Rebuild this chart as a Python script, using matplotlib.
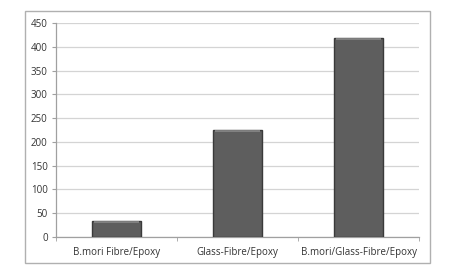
import matplotlib
matplotlib.use("Agg")
import matplotlib.pyplot as plt
from matplotlib.patches import Rectangle
import numpy as np

categories = ["B.mori Fibre/Epoxy", "Glass-Fibre/Epoxy", "B.mori/Glass-Fibre/Epoxy"]
values = [34, 225, 418]
yticks = [0, 50, 100, 150, 200, 250, 300, 350, 400, 450]

plt.rcParams['font.family'] = ['Open Sans', 'DejaVu Sans']

W, H = 459, 274
fig = plt.figure(figsize=(W/100, H/100), dpi=100)
fig.patches.append(Rectangle((25/W, 1 - 263/H), 405/W, 252/H, transform=fig.transFigure,
                             fill=False, edgecolor='#b0b0b0', linewidth=1.0))
ax = fig.add_axes([56/W, 1 - 237/H, 363/W, 214/H])
x = np.arange(len(categories))
bars = ax.bar(x, values, width=0.4, color='#5e5e5e', edgecolor='#3a3a3a', linewidth=1.0, zorder=3)

# light bevel at the top of each bar
for b in bars:
    ax.plot([b.get_x() + 0.01, b.get_x() + b.get_width() - 0.01],
            [b.get_height() - 2.5, b.get_height() - 2.5],
            color='#8a8a8a', linewidth=1.2, zorder=4, solid_capstyle='butt')

ax.set_xlim(-0.5, len(categories) - 0.5)
ax.set_ylim(0, 450)
ax.set_yticks(yticks)
ax.set_yticklabels([str(v) for v in yticks], fontsize=7, color='#333333')
ax.set_xticks(x)
ax.set_xticklabels(categories, fontsize=7, color='#333333')
ax.set_xticks(np.arange(len(categories) + 1) - 0.5, minor=True)
ax.tick_params(axis='x', which='major', length=0, pad=7)
ax.tick_params(axis='x', which='minor', length=3, color='#a0a0a0')
ax.tick_params(axis='y', length=3, color='#a0a0a0', pad=3)
ax.grid(axis='y', color='#d4d4d4', linewidth=0.9, zorder=0)
ax.set_axisbelow(True)
for s in ['top', 'right']:
    ax.spines[s].set_visible(False)
for s in ['left', 'bottom']:
    ax.spines[s].set_color('#a0a0a0')
    ax.spines[s].set_linewidth(0.9)

fig.savefig("out.png", dpi=100)
